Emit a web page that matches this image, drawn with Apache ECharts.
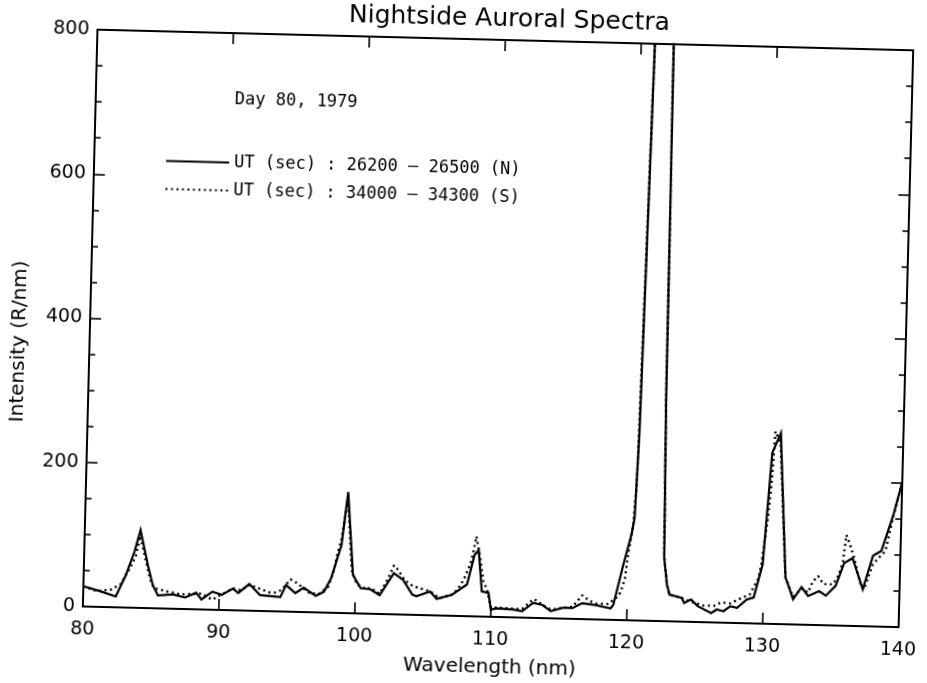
<!DOCTYPE html>
<html><head><meta charset="utf-8">
<script src="https://cdn.jsdelivr.net/npm/echarts@6/dist/echarts.min.js"></script>
<style>
html,body{margin:0;padding:0;background:#fff;overflow:hidden;width:927px;height:683px}
#c{width:927px;height:683px;transform:rotate(1.45deg);transform-origin:502px 329.5px}
</style>
</head><body><div id="c"></div>
<script>
// ---- data (wavelength nm, intensity R/nm) ----
const wavelengthN = [80.0,81.2,82.4,83.1,83.7,84.1,84.7,85.1,85.5,86.6,87.5,88.3,88.7,89.5,90.2,91.0,91.4,92.2,93.0,94.5,94.9,95.6,96.2,97.1,97.7,98.2,98.9,99.3,99.8,100.4,101.1,101.8,102.8,103.5,104.2,104.5,105.5,106.0,107.1,108.2,108.7,109.0,109.3,109.8,110.0,110.4,111.6,112.3,113.1,113.8,114.4,115.3,116.0,116.7,117.7,118.8,119.0,119.6,120.2,120.4,120.6,121.05,121.6,122.15,122.5,122.65,122.9,123.1,124.0,124.2,124.7,125.2,126.2,126.6,127.1,127.6,128.1,128.8,129.3,129.9,130.4,131.0,131.6,132.2,132.8,133.3,134.1,134.6,135.3,135.9,136.5,137.3,138.0,138.6,139.4,140.0];
const intensityN = [28,22,15,45,78,108,60,32,18,20,16,23,14,25,21,30,24,37,22,20,37,26,34,23,29,48,94,168,53,35,34,26,57,48,28,26,33,23,29,44,85,92,35,33,10,12,11,9,21,18,10,15,15,22,20,16,21,72,119,142,260,850,3000,2000,300,88,51,37,33,26,31,22,13,18,16,23,21,33,36,82,237,265,65,35,52,40,47,41,55,87,94,51,98,105,154,200];
const wavelengthS = [80.0,81.0,82.0,82.8,83.0,83.4,83.8,84.1,84.6,84.9,85.2,86.1,86.7,87.2,87.7,88.0,88.7,89.5,90.2,91.0,91.6,92.2,93.1,93.7,94.1,94.6,95.2,95.7,96.6,97.3,98.0,98.4,98.6,98.9,99.1,99.3,99.7,100.1,100.5,100.8,101.1,101.8,102.4,102.8,103.1,103.6,104.2,104.6,105.5,106.2,107.2,107.7,108.0,108.4,108.6,108.8,109.1,109.4,109.7,110.0,110.4,111.6,112.3,113.1,113.4,113.8,114.4,115.3,116.0,116.7,117.2,117.7,118.6,119.2,119.5,119.8,120.0,120.3,120.5,121.05,121.6,122.15,122.5,122.65,122.9,123.1,124.0,124.2,124.9,125.6,126.4,126.9,127.6,128.2,129.0,129.6,129.8,130.2,130.4,130.6,131.0,131.6,132.2,132.8,133.3,133.6,134.0,134.4,135.1,135.5,135.8,136.0,136.3,136.6,137.1,137.4,138.0,138.4,138.9,139.4,140.0];
const intensityS = [28,22,24,33,42,55,72,100,62,40,28,24,22,20,21,21,22,14,22,30,28,36,30,26,26,30,45,40,27,25,36,59,80,103,131,160,60,40,37,34,36,28,50,68,62,48,40,38,33,24,30,42,53,72,88,111,84,49,37,12,13,12,12,26,24,18,12,15,17,33,26,22,22,31,38,58,93,130,190,850,3000,2000,300,88,51,37,33,31,27,23,23,28,27,33,40,62,82,147,193,267,250,65,38,50,45,60,68,57,57,70,89,126,112,95,60,51,86,95,105,152,200];
const seriesNames = ['UT (sec) : 26200 \u2013 26500 (N)', 'UT (sec) : 34000 \u2013 34300 (S)'];
const xRange = [80, 140], xStep = 10;
const yRange = [0, 800], yStep = 200;
const titleText = 'Nightside Auroral Spectra';
const noteText = 'Day 80, 1979';
const xName = 'Wavelength (nm)', yName = 'Intensity (R/nm)';

const FONT = 'DejaVu Sans';
const MONO = 'DejaVu Sans Mono';
const K = '#000';
const pairs = (xs, ys) => xs.map((x, i) => [x, ys[i]]);

const tickStyle = {show: true, inside: true, length: 11, lineStyle: {color: K, width: 1.6}};
const minorStyle = {show: true, splitNumber: 4, length: 6, lineStyle: {color: K, width: 1.6}};
const lineAx = {show: true, onZero: false, lineStyle: {color: K, width: 2}};

const chart = echarts.init(document.getElementById('c'), null, {renderer: 'canvas'});
chart.setOption({
  animation: false,
  backgroundColor: '#fff',
  title: {text: titleText, left: 341, top: 7, padding: 0,
    textStyle: {fontFamily: FONT, fontSize: 25, fontWeight: 'normal', color: K}},
  legend: {
    orient: 'vertical', left: 161, top: 161, padding: 0,
    itemWidth: 63, itemHeight: 18, itemGap: 11,
    data: seriesNames,
    itemStyle: {opacity: 0},
    textStyle: {fontFamily: MONO, fontSize: 17, color: K},
    selectedMode: false
  },
  graphic: [{type: 'text', left: 229, top: 98,
    style: {text: noteText, font: '17px "DejaVu Sans Mono"', fill: K}}],
  grid: {left: 90, right: 13, top: 40, bottom: 64, containLabel: false},
  xAxis: [
    {type: 'value', min: xRange[0], max: xRange[1], interval: xStep, position: 'bottom',
     name: xName, nameLocation: 'middle', nameGap: 41,
     nameTextStyle: {fontFamily: FONT, fontSize: 20, color: K},
     axisLine: lineAx, axisTick: tickStyle, splitLine: {show: false},
     axisLabel: {margin: 14, fontFamily: FONT, fontSize: 19, color: K}},
    {type: 'value', min: xRange[0], max: xRange[1], interval: xStep, position: 'top',
     axisLine: lineAx, axisTick: tickStyle, splitLine: {show: false}, axisLabel: {show: false}}
  ],
  yAxis: [
    {type: 'value', min: yRange[0], max: yRange[1], interval: yStep, position: 'left',
     name: yName, nameLocation: 'middle', nameGap: 60, nameRotate: 90,
     nameTextStyle: {fontFamily: FONT, fontSize: 20, color: K, padding: [0, 50, 0, 0]},
     axisLine: lineAx, axisTick: tickStyle, minorTick: minorStyle, splitLine: {show: false}, minorSplitLine: {show: false},
     axisLabel: {margin: 8, fontFamily: FONT, fontSize: 19, color: K}},
    {type: 'value', min: yRange[0], max: yRange[1], interval: yStep, position: 'right',
     axisLine: lineAx, axisTick: tickStyle, minorTick: minorStyle, splitLine: {show: false}, axisLabel: {show: false}}
  ],
  series: [
    {name: seriesNames[0], type: 'line', xAxisIndex: 0, yAxisIndex: 0, data: pairs(wavelengthN, intensityN),
     symbol: 'none', clip: true, z: 3,
     lineStyle: {color: K, width: 2.2, type: 'solid', join: 'miter'}, itemStyle: {color: K}},
    {name: seriesNames[1], type: 'line', xAxisIndex: 0, yAxisIndex: 0, data: pairs(wavelengthS, intensityS),
     symbol: 'none', clip: true, z: 2,
     lineStyle: {color: K, width: 2.4, type: [2, 3.5]}, itemStyle: {color: K}}
  ]
});
</script>
</body></html>
